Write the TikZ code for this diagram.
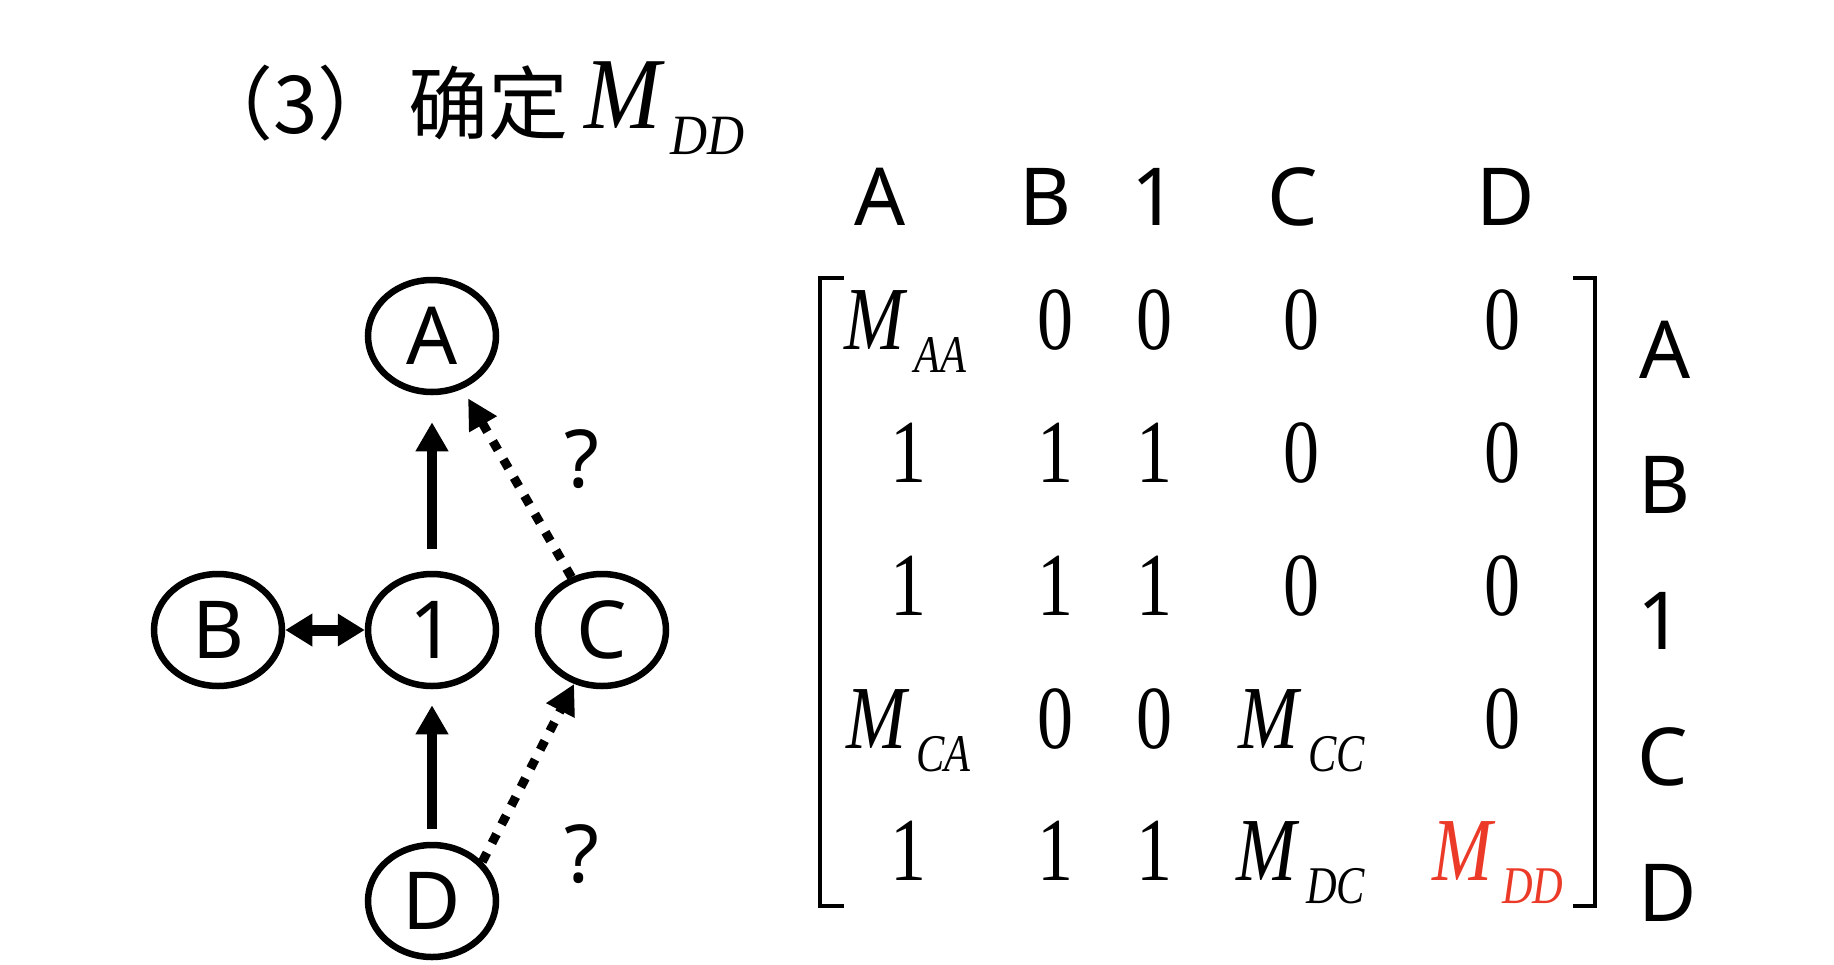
\documentclass[tikz,border=0pt]{standalone}
\usepackage{fontspec}
\setmainfont{Noto Sans}
\newfontfamily\cjk{Noto Sans CJK SC}
\newfontfamily\mtx[FakeStretch=0.8]{Liberation Serif}
\newfontfamily\ttlf[FakeStretch=0.9]{Liberation Serif}
\usetikzlibrary{arrows.meta,shapes.geometric}
\definecolor{mred}{RGB}{235,58,40}
\newcommand\Msb[1]{M\kern10pt\raisebox{-23pt}{\fontsize{53}{60}\selectfont #1}}
\begin{document}
\begin{tikzpicture}[x=1pt,y=-1pt,
 vtx/.style={ellipse, draw, line width=6.5pt, minimum width=128pt, minimum height=112pt, inner sep=0pt, font=\fontsize{80}{90}\selectfont},
 solidarr/.style={line width=10.5pt, -{Triangle[length=29pt,width=31pt]}},
 dotarr/.style={line width=9pt, dash pattern=on 10pt off 11pt, -{Triangle[length=30pt,width=30pt]}},
 lbl/.style={anchor=base, inner sep=0pt, font=\fontsize{80}{90}\selectfont},
 ent/.style={anchor=base, inner sep=0pt, font=\mtx\fontsize{90}{100}\selectfont},
 ment/.style={anchor=base west, inner sep=0pt, font=\mtx\fontsize{90}{100}\selectfont\itshape},
 brk/.style={line width=4pt}
]
\useasboundingbox (0,0) rectangle (1834,964);
% title
\node[anchor=base west, inner sep=0pt, font=\cjk\fontsize{80}{90}\selectfont] (t1) at (193,133) {（3）};
\node[anchor=base west, inner sep=0pt, font=\cjk\fontsize{80}{90}\selectfont] (t2) at (408,133) {确定};
\node[anchor=base west, inner sep=0pt, font=\ttlf\fontsize{102}{110}\selectfont\itshape] (t3) at (584,128) {M\kern10pt\raisebox{-26pt}{\fontsize{57}{60}\selectfont DD}};
% graph
\node[vtx] (A) at (432,336) {A};
\node[vtx] (B) at (218,630) {B};
\node[vtx] (one) at (432,630) {1};
\node[vtx] (C) at (602,630) {C};
\node[vtx] (D) at (432,901) {D};
\draw[solidarr, shorten <=22pt, shorten >=27pt] (one) -- (A);
\draw[solidarr, shorten <=13pt, shorten >=16pt] (D) -- (one);
\draw[line width=11pt, {Triangle[length=27pt,width=31pt]}-{Triangle[length=27pt,width=31pt]}] (B) -- (one);
\draw[dotarr, shorten >=11pt] (C) -- (A);
\draw[dotarr] (D.38) -- (C);
\node[lbl] (q1) at (582,487) {?};
\node[lbl] (q2) at (582,882) {?};
% headers
\node[lbl] (hA) at (880,225) {A};
\node[lbl] (hB) at (1045,225) {B};
\node[lbl] (h1) at (1154,225) {1};
\node[lbl] (hC) at (1293,225) {C};
\node[lbl] (hD) at (1506,225) {D};
% row labels
\node[lbl] (rA) at (1665,378) {A};
\node[lbl] (rB) at (1664,513) {B};
\node[lbl] (r1) at (1660,649) {1};
\node[lbl] (rC) at (1663,785) {C};
\node[lbl] (rD) at (1668,921) {D};
% brackets
\draw[brk] (844,278) -- (820,278) -- (820,906) -- (844,906);
\draw[brk] (1573,278) -- (1595,278) -- (1595,906) -- (1573,906);
% matrix row 1
\node[ment] (m11) at (844,349) {\Msb{AA}};
\node[ent] (m12) at (1055,349) {0};
\node[ent] (m13) at (1154,349) {0};
\node[ent] (m14) at (1301,349) {0};
\node[ent] (m15) at (1502,349) {0};
% row 2
\node[ent] (m21) at (908,482) {1};
\node[ent] (m22) at (1055,482) {1};
\node[ent] (m23) at (1154,482) {1};
\node[ent] (m24) at (1301,482) {0};
\node[ent] (m25) at (1502,482) {0};
% row 3
\node[ent] (m31) at (908,615) {1};
\node[ent] (m32) at (1055,615) {1};
\node[ent] (m33) at (1154,615) {1};
\node[ent] (m34) at (1301,615) {0};
\node[ent] (m35) at (1502,615) {0};
% row 4
\node[ment] (m41) at (846,748) {\Msb{CA}};
\node[ent] (m42) at (1055,748) {0};
\node[ent] (m43) at (1154,748) {0};
\node[ment] (m44) at (1238,748) {\Msb{CC}};
\node[ent] (m45) at (1502,748) {0};
% row 5
\node[ent] (m51) at (908,880) {1};
\node[ent] (m52) at (1055,880) {1};
\node[ent] (m53) at (1154,880) {1};
\node[ment] (m54) at (1236,880) {\Msb{DC}};
\node[ment, text=mred] (m55) at (1432,880) {\Msb{DD}};
\end{tikzpicture}
\end{document}
